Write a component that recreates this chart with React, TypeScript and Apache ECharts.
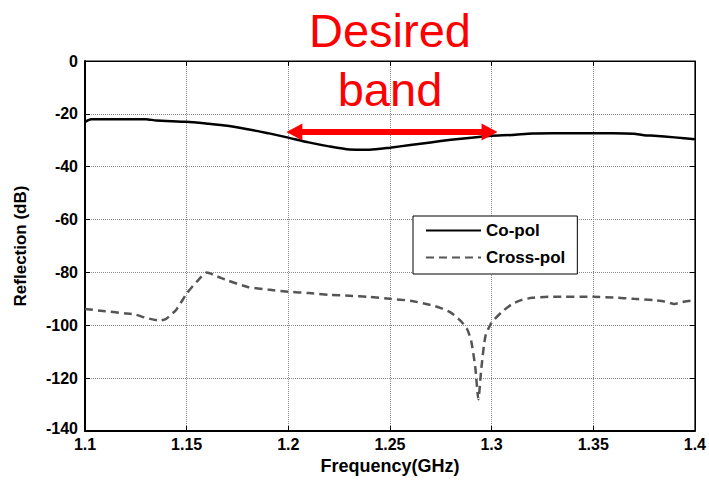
import React, { useEffect, useRef } from "react";
import * as echarts from "echarts";

const FONT = "'Liberation Sans', Arial, Helvetica, sans-serif";

const coFreq = [1.1, 1.103, 1.13, 1.135, 1.15, 1.16, 1.17, 1.18, 1.19, 1.2, 1.21, 1.22, 1.23, 1.24, 1.25, 1.26, 1.27, 1.28, 1.29, 1.3, 1.31, 1.32, 1.33, 1.35, 1.36, 1.37, 1.375, 1.38, 1.39, 1.4];
const coPol = [-23, -22, -22, -22.5, -23, -23.7, -24.5, -25.8, -27.3, -29, -30.8, -32.3, -33.5, -33.6, -32.8, -31.8, -30.8, -29.8, -29, -28.3, -28, -27.4, -27.3, -27.3, -27.3, -27.5, -28.1, -28.3, -28.9, -29.6];

const crossFreq = [1.1, 1.11, 1.12, 1.125, 1.13, 1.137, 1.14, 1.145, 1.15, 1.155, 1.16, 1.165, 1.17, 1.18, 1.19, 1.2, 1.21, 1.22, 1.23, 1.24, 1.25, 1.26, 1.27, 1.275, 1.28, 1.285, 1.288, 1.29, 1.292, 1.2935, 1.295, 1.297, 1.3, 1.305, 1.31, 1.315, 1.32, 1.33, 1.35, 1.36, 1.37, 1.38, 1.385, 1.39, 1.395, 1.4];
const crossPol = [-93.8, -94.7, -95.5, -96, -97.2, -98.2, -97.5, -94, -88, -83.5, -80, -81.5, -83, -85.5, -86.5, -87.3, -87.8, -88.5, -88.8, -89.3, -90, -90.7, -92.3, -93.5, -95.2, -98.5, -101.5, -106, -116, -128, -116, -104, -99, -95, -92, -90.4, -89.6, -89.2, -89.2, -89.5, -90, -90.5, -91, -91.9, -91, -90.6];

const seriesNames = ["Co-pol", "Cross-pol"];
const bandStart = 1.203;
const bandEnd = 1.299;
const bandLevel = -26.9;
const yMin = -140;

export default function App() {
  const ref = useRef<HTMLDivElement>(null);
  useEffect(() => {
    if (!ref.current) return;
    const chart = echarts.init(ref.current, null, { renderer: "svg" });
    const tickStyle = { inside: true, length: 5, lineStyle: { color: "#000", width: 1 } };
    chart.setOption({
      animation: false,
      backgroundColor: "#fff",
      textStyle: { fontFamily: FONT },
      grid: {
        left: 85,
        right: 12,
        top: 61,
        bottom: 47,
        show: true,
        borderColor: "#000",
        borderWidth: 1,
        containLabel: false,
      },
      legend: {
        data: seriesNames,
        orient: "vertical",
        left: 413,
        top: 216,
        backgroundColor: "#fff",
        borderColor: "#000",
        borderWidth: 1,
        borderRadius: 0,
        padding: [6, 12, 8, 12],
        itemWidth: 55,
        itemHeight: 14,
        itemGap: 10,
        itemStyle: { opacity: 0 },
        textStyle: { fontFamily: FONT, fontWeight: "bold", fontSize: 17, color: "#000" },
      },
      xAxis: [
        {
          type: "value",
          min: 1.1,
          max: 1.4,
          interval: 0.05,
          name: "Frequency(GHz)",
          nameLocation: "middle",
          nameGap: 26,
          nameTextStyle: { fontFamily: FONT, fontWeight: "bold", fontSize: 18, color: "#000" },
          axisLine: { show: true, onZero: false, lineStyle: { color: "#000", width: 2 } },
          axisTick: tickStyle,
          axisLabel: {
            margin: 5,
            fontFamily: FONT,
            fontWeight: "bold",
            fontSize: 16,
            color: "#000",
            formatter: (v: number) => String(parseFloat(v.toFixed(2))),
          },
          splitLine: { show: true, lineStyle: { color: "#8a8a8a", type: [1, 1], width: 1 } },
        },
        {
          type: "value",
          position: "top",
          min: 1.1,
          max: 1.4,
          interval: 0.05,
          axisLine: { show: true, lineStyle: { color: "#000", width: 1 } },
          axisTick: tickStyle,
          axisLabel: { show: false },
          splitLine: { show: false },
        },
      ],
      yAxis: [
        {
          type: "value",
          min: yMin,
          max: 0,
          interval: 20,
          name: "Reflection (dB)",
          nameLocation: "middle",
          nameGap: 56,
          nameTextStyle: { fontFamily: FONT, fontWeight: "bold", fontSize: 17, color: "#000" },
          axisLine: { show: true, onZero: false, lineStyle: { color: "#000", width: 2 } },
          axisTick: tickStyle,
          axisLabel: {
            margin: 7,
            fontFamily: FONT,
            fontWeight: "bold",
            fontSize: 16,
            color: "#000",
            formatter: (v: number) => (v === yMin ? `{m|${v}}` : String(v)),
            rich: {
              m: { fontFamily: FONT, fontWeight: "bold", fontSize: 16, color: "#000", padding: [0, 0, 6, 0] },
            },
          },
          splitLine: { show: true, lineStyle: { color: "#8a8a8a", type: [1, 1], width: 1 } },
        },
        {
          type: "value",
          position: "right",
          min: yMin,
          max: 0,
          interval: 20,
          axisLine: { show: true, lineStyle: { color: "#000", width: 1 } },
          axisTick: tickStyle,
          axisLabel: { show: false },
          splitLine: { show: false },
        },
      ],
      series: [
        {
          name: seriesNames[0],
          type: "line",
          showSymbol: false,
          symbol: "none",
          smooth: 0.2,
          data: coFreq.map((f, i) => [f, coPol[i]]),
          itemStyle: { color: "#000" },
          lineStyle: { color: "#000", width: 2.5 },
          z: 3,
          markLine: {
            silent: true,
            symbol: ["triangle", "triangle"],
            symbolSize: [17, 16],
            label: { show: false },
            lineStyle: { color: "#ff0000", width: 6, type: "solid" },
            data: [[{ coord: [bandStart, bandLevel] }, { coord: [bandEnd, bandLevel] }]],
            z: 5,
          },
        },
        {
          name: seriesNames[1],
          type: "line",
          showSymbol: false,
          symbol: "none",
          smooth: 0.2,
          data: crossFreq.map((f, i) => [f, crossPol[i]]),
          itemStyle: { color: "#555" },
          lineStyle: { color: "#555", width: 2.5, type: [8, 5] },
          z: 2,
        },
      ],
      graphic: [
        {
          type: "text",
          x: 390,
          y: 30,
          style: {
            text: "Desired",
            fill: "#ff0000",
            fontFamily: FONT,
            fontSize: 47,
            align: "center",
            verticalAlign: "middle",
          },
        },
        {
          type: "text",
          x: 390,
          y: 89,
          style: {
            text: "band",
            fill: "#ff0000",
            fontFamily: FONT,
            fontSize: 47,
            align: "center",
            verticalAlign: "middle",
          },
        },
      ],
    });
    return () => chart.dispose();
  }, []);
  return <div ref={ref} style={{ width: 709, height: 480, position: "absolute", left: 0, top: 0 }} />;
}
